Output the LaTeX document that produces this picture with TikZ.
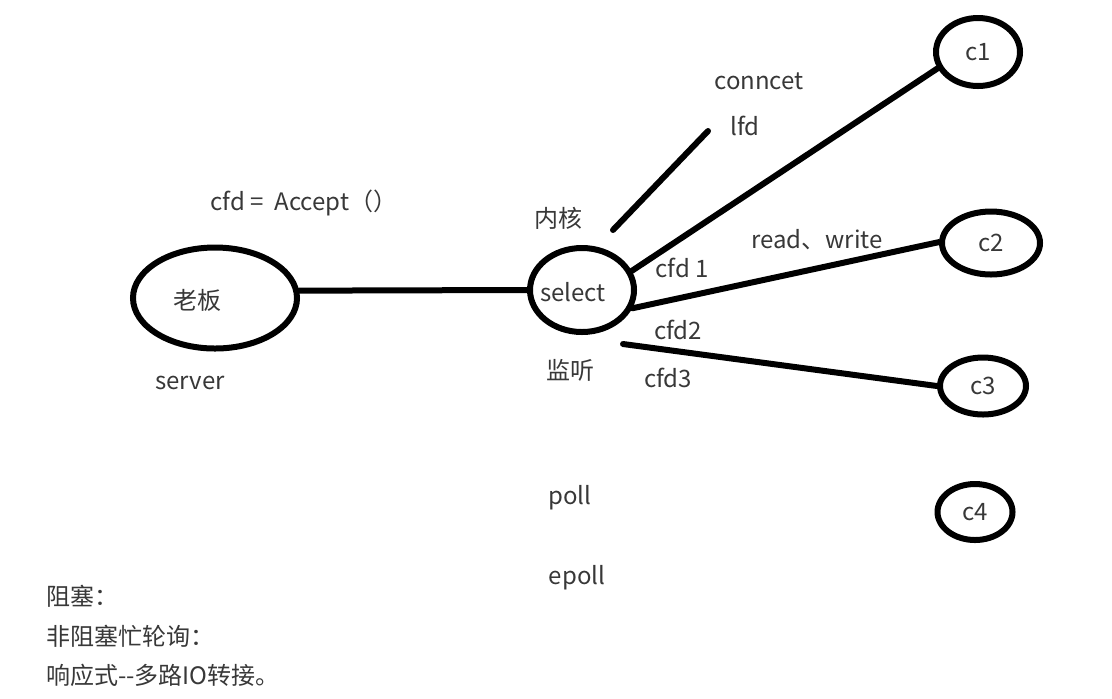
\documentclass[tikz,border=0pt]{standalone}
\usepackage{fontspec}
\setmainfont{Noto Sans CJK SC}
\usetikzlibrary{shapes.geometric}

\begin{document}
\begin{tikzpicture}[x=0.5pt, y=-0.5pt]
        \tikzstyle{every node}=[text=black!78, font=\fontsize{12}{14}\selectfont]
        \tikzstyle{oval}=[draw=black, ellipse, line width=3pt, inner sep=0pt]
        \tikzstyle{wire}=[line width=3pt, line cap=round]

        \useasboundingbox (0,0) rectangle (1112,698);

        % the ovals
        \node   (boss)  [oval, minimum width=82pt, minimum height=50.5pt,
                         label={[xshift=-9pt, yshift=-1pt]center:老板}] at (215,298) {};
        \node   (sel)   [oval, minimum width=52pt, minimum height=42pt] at (582,290) {};
        \node   (seltx) at (573,292) {select};
        \node   (c1)    [oval, minimum width=42pt, minimum height=34pt] at (978,52) {c1};
        \node   (c2)    [oval, minimum width=49pt, minimum height=31.5pt] at (991,243) {c2};
        \node   (c3)    [oval, minimum width=43pt, minimum height=28.5pt] at (983,386) {c3};
        \node   (c4)    [oval, minimum width=37.5pt, minimum height=28pt] at (975,512) {c4};

        % free ends
        \coordinate (k1) at (613,230);
        \coordinate (k2) at (708,131);
        \coordinate (k3) at (623,344);

        \draw[wire] (boss.5) -- (sel.180);
        \draw[wire] (sel.21) -- (c1.202);
        \draw[wire] (sel.340) -- (c2.179);
        \draw[wire] (k3) -- (c3.180);
        \draw[wire] (k1) -- (k2);

        % texts
        \node   (acc)   at (304,203) {cfd =\ \ Accept（）};
        \node   (srv)   at (190,383) {server};
        \node   (nh)    at (558,218) {内核};
        \node   (jt)    at (570,370) {监听};
        \node   (f1)    at (682,268) {cfd 1};
        \node   (f2)    at (678,330) {cfd2};
        \node   (f3)    at (668,378) {cfd3};
        \node   (rw)    at (817,240) {read、write};
        \node   (cn)    at (759,81)  {conncet};
        \node   (lfd)   at (745,126) {lfd};
        \node   (pl)    at (570,498) {poll};
        \node   (ep)    at (577,578) {epoll};

        \node   (t1)    [anchor=west] at (39,596) {阻塞：};
        \node   (t2)    [anchor=west] at (39,636) {非阻塞忙轮询：};
        \node   (t3)    [anchor=west] at (39,675) {响应式-{}-多路IO转接。};

\end{tikzpicture}
\end{document}
